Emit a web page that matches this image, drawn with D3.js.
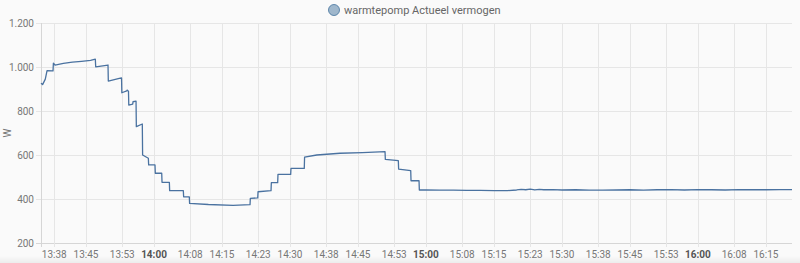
<!DOCTYPE html>
<html>
<head>
<meta charset="utf-8">
<style>
  html, body { margin: 0; padding: 0; background: #fafafa; }
  svg { display: block; font-family: Roboto, "Noto Sans", sans-serif; }
</style>
</head>
<body>
<div id="chart"></div>
<script src="https://cdn.jsdelivr.net/npm/d3@7"></script>
<script>
    var width = 800,
        height = 263;

    var seriesName = 'warmtepomp Actueel vermogen';
    var unit = 'W';

    // history samples (time of day, watts)
    var times = ['13:35:04', '13:35:25', '13:36:01', '13:36:24', '13:37:43', '13:37:48', '13:38:10', '13:40:00',
        '13:42:00', '13:44:00', '13:46:00', '13:47:03', '13:47:08', '13:49:51', '13:49:55', '13:52:20', '13:52:50',
        '13:52:54', '13:53:59', '13:54:03', '13:54:22', '13:54:26', '13:55:18', '13:55:22', '13:56:02', '13:56:06',
        '13:57:25', '13:57:29', '13:58:45', '13:58:49', '14:00:13', '14:00:17', '14:01:42', '14:01:46', '14:03:23',
        '14:03:27', '14:06:28', '14:06:32', '14:07:47', '14:07:51', '14:12:00', '14:17:26', '14:21:11', '14:21:15',
        '14:22:53', '14:22:57', '14:25:49', '14:25:53', '14:27:17', '14:27:21', '14:30:09', '14:30:13', '14:33:09',
        '14:33:13', '14:35:54', '14:41:02', '14:46:00', '14:50:58', '14:51:02', '14:53:54', '14:53:58', '14:56:38',
        '14:56:42', '14:58:28', '14:58:32', '15:00:00', '15:03:00', '15:06:00', '15:09:00', '15:12:00', '15:15:00',
        '15:18:00', '15:20:00', '15:21:00', '15:22:00', '15:23:00', '15:24:00', '15:25:00', '15:26:00', '15:28:00',
        '15:30:00', '15:33:00', '15:36:00', '15:39:00', '15:42:00', '15:45:00', '15:48:00', '15:51:00', '15:54:00',
        '15:57:00', '16:00:00', '16:03:00', '16:06:00', '16:09:00', '16:12:00', '16:15:00', '16:18:00', '16:20:45'];
    var values = [926, 920, 945, 983, 982, 1017, 1009, 1016,
        1022, 1026, 1030, 1036, 1001, 1009, 936, 948, 950,
        883, 891, 895, 890, 827, 831, 842, 845, 729,
        741, 600, 585, 555, 555, 517, 517, 476, 476,
        438, 438, 410, 410, 380, 375, 371, 374, 403,
        405, 433, 438, 474, 474, 512, 512, 539, 539,
        590, 600, 608, 611, 615, 580, 574, 536, 529,
        483, 483, 441, 441, 440, 440, 439, 439, 438,
        438, 441, 444, 442, 445, 441, 444, 442, 443,
        441, 442, 440, 440, 441, 442, 440, 442, 443,
        441, 443, 442, 441, 443, 442, 442, 443, 443];

    var yTicks = [200, 400, 600, 800, 1000, 1200];
    var xTicks = ['13:38', '13:45', '13:53', '14:00', '14:08', '14:15', '14:23', '14:30', '14:38', '14:45', '14:53',
        '15:00', '15:08', '15:15', '15:23', '15:30', '15:38', '15:45', '15:53', '16:00', '16:08', '16:15'];

    var parseT = d3.timeParse('%H:%M:%S');
    var parseM = d3.timeParse('%H:%M');
    var fmt = d3.formatLocale({decimal: ',', thousands: '.', grouping: [3], currency: ['€', '']}).format(',d');

    var data = times.map(function(t, i){ return {t: parseT(t), v: values[i]}; });

    var margin = {top: 23, right: 8, bottom: 20, left: 41};

    var x = d3.scaleTime()
        .domain(d3.extent(data, function(d){ return d.t; }))
        .range([margin.left, width - margin.right]);

    var y = d3.scaleLinear()
        .domain([200, 1200])
        .range([height - margin.bottom, margin.top]);

    var svg = d3.select('#chart')
        .append('svg')
        .attr('width', width)
        .attr('height', height);

    // slight card edge at the bottom
    var grad = svg.append('defs').append('linearGradient')
        .attr('id', 'edge').attr('x1', 0).attr('x2', 0).attr('y1', 0).attr('y2', 1);
    grad.append('stop').attr('offset', 0).attr('stop-color', '#fafafa');
    grad.append('stop').attr('offset', 1).attr('stop-color', '#ececec');
    svg.append('rect')
        .attr('x', 0).attr('y', height - 7)
        .attr('width', width).attr('height', 7)
        .attr('fill', 'url(#edge)');

    // horizontal grid + y labels
    svg.append('g')
        .selectAll('line')
        .data(yTicks)
        .enter().append('line')
        .attr('x1', margin.left - 5)
        .attr('x2', width - margin.right)
        .attr('y1', function(d){ return y(d) + 0.5; })
        .attr('y2', function(d){ return y(d) + 0.5; })
        .attr('stroke', function(d){ return d == 200 ? '#d6d6d6' : '#e6e6e6'; })
        .attr('stroke-width', 1);

    svg.append('g')
        .selectAll('text')
        .data(yTicks)
        .enter().append('text')
        .attr('x', margin.left - 7)
        .attr('y', function(d){ return y(d) + 3.5; })
        .attr('text-anchor', 'end')
        .attr('font-size', 10)
        .attr('fill', '#777')
        .text(function(d){ return fmt(d); });

    // vertical grid + x labels
    svg.append('line')
        .attr('x1', margin.left + 0.5).attr('x2', margin.left + 0.5)
        .attr('y1', margin.top).attr('y2', height - margin.bottom + 4)
        .attr('stroke', '#d6d6d6');

    svg.append('g')
        .selectAll('line')
        .data(xTicks)
        .enter().append('line')
        .attr('x1', function(d){ return Math.round(x(parseM(d))) + 0.5; })
        .attr('x2', function(d){ return Math.round(x(parseM(d))) + 0.5; })
        .attr('y1', margin.top)
        .attr('y2', height - margin.bottom + 4)
        .attr('stroke', '#e6e6e6');

    svg.append('g')
        .selectAll('text')
        .data(xTicks)
        .enter().append('text')
        .attr('x', function(d){ return x(parseM(d)); })
        .attr('y', height - 5)
        .attr('text-anchor', 'middle')
        .attr('font-size', 10)
        .attr('font-weight', function(d){ return /:00$/.test(d) ? 'bold' : 'normal'; })
        .attr('fill', function(d){ return /:00$/.test(d) ? '#555' : '#777'; })
        .text(function(d){ return d; });

    // axis title
    svg.append('text')
        .attr('transform', 'translate(11,' + ((margin.top + height - margin.bottom) / 2) + ') rotate(-90)')
        .attr('text-anchor', 'middle')
        .attr('font-size', 10)
        .attr('fill', '#777')
        .text(unit);

    // the line
    var line = d3.line()
        .x(function(d){ return x(d.t); })
        .y(function(d){ return y(d.v); });

    svg.append('path')
        .datum(data)
        .attr('d', line)
        .attr('fill', 'none')
        .attr('stroke', '#4a72a0')
        .attr('stroke-width', 1.3)
        .attr('stroke-linejoin', 'round');

    // legend
    var lg = svg.append('g');
    lg.append('circle')
        .attr('cx', 334).attr('cy', 10).attr('r', 5.5)
        .attr('fill', 'rgba(68,115,158,0.5)')
        .attr('stroke', 'rgba(68,115,158,0.8)')
        .attr('stroke-width', 1);
    lg.append('text')
        .attr('x', 344).attr('y', 14)
        .attr('font-size', 11)
        .attr('fill', '#666')
        .text(seriesName);
</script>
</body>
</html>
